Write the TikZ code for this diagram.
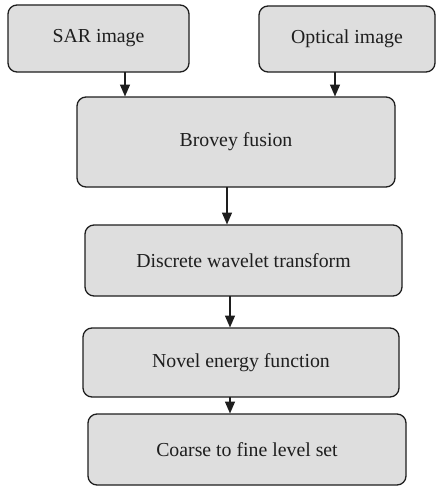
\documentclass[tikz,border=0pt]{standalone}
\usepackage{fontspec}
\setmainfont{Liberation Serif}
\usetikzlibrary{arrows.meta}
\definecolor{boxfill}{HTML}{DEDEDE}
\definecolor{inkc}{HTML}{1E1E1E}
\begin{document}
\begin{tikzpicture}[x=1pt,y=-1pt,
  stepbox/.style={draw=inkc, line width=1.3pt, fill=boxfill, rounded corners=9pt,
    text=inkc, font=\fontsize{19.8}{23}\selectfont, inner sep=0pt, outer sep=0pt},
  arr/.style={draw=inkc, line width=1.4pt, -{Triangle[length=12pt,width=10pt]}, shorten >=0.5pt}]
\useasboundingbox (0,0) rectangle (436,487);
\node[stepbox, minimum width=181pt, minimum height=67pt] (sar) at (98.5,38.5) {SAR image};
\node[stepbox, minimum width=176pt, minimum height=66pt] (opt) at (347,39) {Optical image};
\node[stepbox, minimum width=318pt, minimum height=90pt] (bro) at (236,142) {Brovey fusion};
\node[stepbox, minimum width=317pt, minimum height=71pt] (dwt) at (243.5,260.5) {Discrete wavelet transform};
\node[stepbox, minimum width=316pt, minimum height=69pt] (nef) at (241,362.5) {Novel energy function};
\node[stepbox, minimum width=318pt, minimum height=71pt] (cfl) at (247,449.5) {Coarse to fine level set};
% x positions of the connectors
\coordinate (xa) at (125,0);
\coordinate (xb) at (335,0);
\coordinate (xc) at (227,0);
\coordinate (xd) at (230,0);
\draw[arr] (sar.south -| xa) -- (bro.north -| xa);
\draw[arr] (opt.south -| xb) -- (bro.north -| xb);
\draw[arr] (bro.south -| xc) -- (dwt.north -| xc);
\draw[arr] (dwt.south -| xd) -- (nef.north -| xd);
\draw[arr] (nef.south -| xd) -- (cfl.north -| xd);
\end{tikzpicture}
\end{document}
